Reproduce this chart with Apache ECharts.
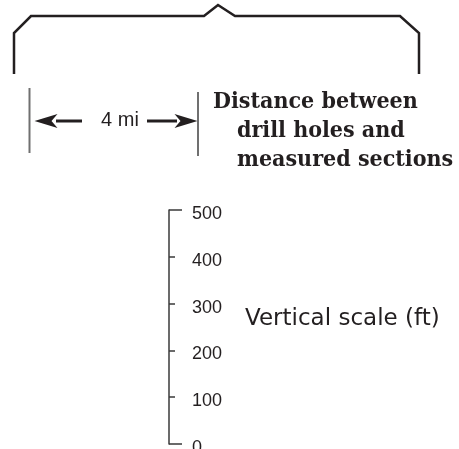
<!DOCTYPE html>
<html>
<head>
<meta charset="utf-8">
<script src="https://cdn.jsdelivr.net/npm/echarts@6/dist/echarts.min.js"></script>
<style>
html,body{margin:0;padding:0;background:#fff;}
#c{width:459px;height:449px;}
</style>
</head>
<body>
<div id="c"></div>
<script>
// Brace outline (page units of the overlay grid)
const bracketX = [14, 14, 31, 204, 218, 235, 400, 419, 419];
const bracketY = [74, 33, 16, 16, 5, 16, 16, 33, 74];
// Distance bar markers
const leftBarX = [29.5, 29.5], leftBarY = [88, 153];
const rightBarX = [198, 198], rightBarY = [92, 156];
// Arrow shafts
const leftShaftX = [56, 82], rightShaftX = [147, 177], shaftY = [121, 121];
// Arrow head centres
const arrowHeadX = [46, 186], arrowHeadY = [121, 121];
// Texts
const distanceLabel = '4 mi';
const captionLines = ['Distance between', 'drill holes and', 'measured sections'];
const verticalTitle = 'Vertical scale (ft)';
// Vertical scale
const scaleMin = 0, scaleMax = 500, scaleStep = 100;

const ink = '#231f20';
const gray = '#707070';
const zip = (a, b) => a.map((v, i) => [v, b[i]]);

const chart = echarts.init(document.getElementById('c'), null, {renderer: 'canvas'});
const option = {
  backgroundColor: '#fff',
  animation: false,
  grid: [
    {left: 0, top: 0, right: 0, bottom: 0, containLabel: false, outerBoundsMode: 'none'},
    {left: 169, top: 210, width: 1, bottom: 5, containLabel: false, outerBoundsMode: 'none'}
  ],
  xAxis: [
    {type: 'value', gridIndex: 0, min: 0, max: 459, show: false},
    {type: 'value', gridIndex: 1, min: 0, max: 1, show: false}
  ],
  yAxis: [
    {type: 'value', gridIndex: 0, min: 0, max: 449, inverse: true, show: false},
    {
      type: 'value', gridIndex: 1, min: scaleMin, max: scaleMax, interval: scaleStep,
      position: 'left',
      axisLine: {show: true, lineStyle: {color: '#3a3a3a', width: 1.5}},
      axisTick: {show: true, inside: true, length: 6, lineStyle: {color: '#3a3a3a', width: 1.5}},
      splitLine: {show: false},
      axisLabel: {
        show: true, inside: true, margin: 23, align: 'left',
        color: ink, fontFamily: 'Liberation Sans', fontSize: 18,
        verticalAlign: 'top', lineHeight: 8
      }
    },
    {
      type: 'value', gridIndex: 1, min: scaleMin, max: scaleMax, interval: scaleMax - scaleMin,
      position: 'left',
      axisLine: {show: false},
      axisTick: {show: true, inside: true, length: 13, lineStyle: {color: '#3a3a3a', width: 1.5}},
      splitLine: {show: false},
      axisLabel: {show: false}
    }
  ],
  series: [
    {
      type: 'line', xAxisIndex: 0, yAxisIndex: 0, symbol: 'none',
      data: zip(bracketX, bracketY),
      lineStyle: {color: ink, width: 2.5, join: 'miter'}
    },
    {
      type: 'line', xAxisIndex: 0, yAxisIndex: 0, symbol: 'none',
      data: zip(leftBarX, leftBarY),
      lineStyle: {color: gray, width: 2}
    },
    {
      type: 'line', xAxisIndex: 0, yAxisIndex: 0, symbol: 'none',
      data: zip(rightBarX, rightBarY),
      lineStyle: {color: gray, width: 2}
    },
    {
      type: 'line', xAxisIndex: 0, yAxisIndex: 0, symbol: 'none',
      data: zip(leftShaftX, shaftY),
      lineStyle: {color: ink, width: 3}
    },
    {
      type: 'line', xAxisIndex: 0, yAxisIndex: 0, symbol: 'none',
      data: zip(rightShaftX, shaftY),
      lineStyle: {color: ink, width: 3}
    },
    {
      type: 'scatter', xAxisIndex: 0, yAxisIndex: 0,
      symbolSize: [23, 14],
      data: [
        {value: [arrowHeadX[0], arrowHeadY[0]], symbol: 'path://M0,7L23,0L17,7L23,14Z'},
        {value: [arrowHeadX[1], arrowHeadY[1]], symbol: 'path://M23,7L0,0L6,7L0,14Z'}
      ],
      itemStyle: {color: ink, opacity: 1}
    }
  ],
  graphic: [
    {type: 'text', x: 120, y: 120, style: {text: distanceLabel, fill: ink, font: '20px "Liberation Sans"', align: 'center', verticalAlign: 'middle'}},
    {type: 'text', x: 213, y: 102, style: {text: captionLines[0], fill: ink, font: 'bold 23px "DejaVu Serif Condensed"', align: 'left', verticalAlign: 'middle'}},
    {type: 'text', x: 237, y: 131, style: {text: captionLines[1], fill: ink, font: 'bold 23px "DejaVu Serif Condensed"', align: 'left', verticalAlign: 'middle'}},
    {type: 'text', x: 237, y: 160, style: {text: captionLines[2], fill: ink, font: 'bold 23px "DejaVu Serif Condensed"', align: 'left', verticalAlign: 'middle'}},
    {type: 'text', x: 245, y: 319, style: {text: verticalTitle, fill: ink, font: '23px "DejaVu Sans"', align: 'left', verticalAlign: 'middle'}}
  ]
};
chart.setOption(option);
</script>
</body>
</html>
